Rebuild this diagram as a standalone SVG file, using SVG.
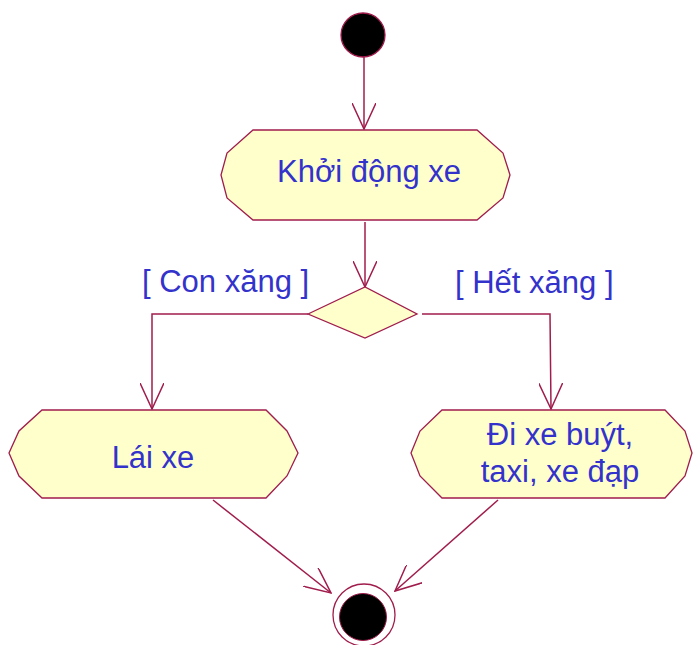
<svg xmlns="http://www.w3.org/2000/svg" width="693" height="645" viewBox="0 0 693 645">
<style>
.act{fill:#FFFFCC;stroke:#A01C4C;stroke-width:1.3}
.lbl{font-family:"Liberation Sans",Arial,sans-serif;font-size:31px;fill:#3333CC}
.edge{fill:none;stroke:#A01C4C;stroke-width:1.5}
</style>
<defs>
<marker id="arr" viewBox="0 0 27 24" refX="26" refY="12" markerWidth="27" markerHeight="24" markerUnits="userSpaceOnUse" orient="auto">
<path d="M0,0 L26,12 L0,24" fill="none" stroke="#A01C4C" stroke-width="1.5"/>
</marker>
</defs>
<rect width="693" height="645" fill="#FFFFFF"/>
<g id="edges">
<line class="edge" x1="364" y1="57" x2="364" y2="129" marker-end="url(#arr)"/>
<line class="edge" x1="365" y1="222" x2="365" y2="287" marker-end="url(#arr)"/>
<polyline class="edge" points="308,314 152,314 152,409" marker-end="url(#arr)"/>
<polyline class="edge" points="422,314 550,314 551,409" marker-end="url(#arr)"/>
<line class="edge" x1="213" y1="500" x2="331" y2="593" marker-end="url(#arr)"/>
<line class="edge" x1="498" y1="500" x2="395" y2="591" marker-end="url(#arr)"/>
</g>
<g id="start">
<circle cx="363" cy="35" r="22" fill="#000000" stroke="#A01C4C" stroke-width="1.3"/>
</g>
<g id="khoi-dong-xe">
<polygon class="act" points="253,130 477,130 503,153 510,175 503,198 477,220 253,220 227,198 221,175 227,153"/>
<text class="lbl" x="369" y="182" text-anchor="middle">Khởi động xe</text>
</g>
<g id="decision">
<polygon class="act" points="308,314 365,287 417,314 365,338"/>
</g>
<g id="guards">
<text class="lbl" x="142" y="292">[ Con xăng ]</text>
<text class="lbl" x="455" y="293">[ Hết xăng ]</text>
</g>
<g id="lai-xe">
<polygon class="act" points="42,410 266,410 287,431 298,453 287,476 266,498 42,498 19,476 9,453 19,431"/>
<text class="lbl" x="153" y="468" text-anchor="middle">Lái xe</text>
</g>
<g id="di-xe-buyt">
<polygon class="act" points="442,410 665,410 685,431 692,453 685,476 665,498 442,498 420,476 411,453 420,431"/>
<text class="lbl" x="560" y="445" text-anchor="middle">Đi xe buýt,</text>
<text class="lbl" x="560" y="482" text-anchor="middle">taxi, xe đạp</text>
</g>
<g id="end">
<circle cx="364" cy="615" r="31" fill="#FFFFFF" stroke="#A01C4C" stroke-width="1.3"/>
<circle cx="363" cy="617" r="23.5" fill="#000000" stroke="#A01C4C" stroke-width="1"/>
</g>
</svg>
